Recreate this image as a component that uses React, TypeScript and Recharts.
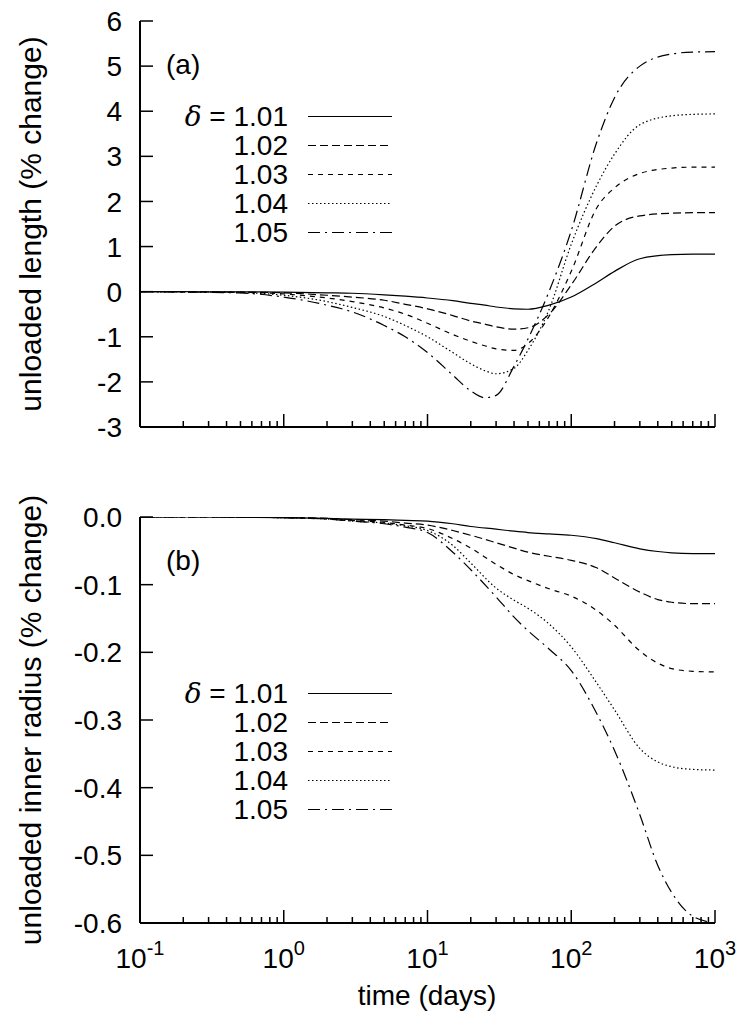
import { Line, LineChart, XAxis, YAxis } from 'recharts'

// time (days) sample points
const lengthTimes = [0.1, 0.2, 0.5, 1, 2, 3, 5, 7, 10, 15, 20, 25, 30, 40, 50, 70, 100, 150, 200, 300, 500, 700, 1000]
const length101 = [0, -0.001, -0.004, -0.01, -0.025, -0.035, -0.07, -0.1, -0.14, -0.2, -0.26, -0.3, -0.34, -0.38, -0.39, -0.3, -0.12, 0.2, 0.45, 0.73, 0.82, 0.83, 0.83]
const length102 = [0, -0.003, -0.01, -0.025, -0.08, -0.12, -0.19, -0.28, -0.38, -0.53, -0.65, -0.72, -0.78, -0.83, -0.8, -0.5, 0.15, 1.0, 1.45, 1.68, 1.74, 1.75, 1.75]
const length103 = [0, -0.005, -0.015, -0.05, -0.14, -0.22, -0.36, -0.5, -0.7, -0.95, -1.1, -1.2, -1.27, -1.3, -1.15, -0.55, 0.45, 1.85, 2.3, 2.62, 2.74, 2.76, 2.76]
const length104 = [0, -0.006, -0.02, -0.08, -0.22, -0.35, -0.55, -0.75, -1.0, -1.35, -1.6, -1.75, -1.82, -1.7, -1.3, -0.4, 1.05, 2.35, 3.05, 3.7, 3.9, 3.93, 3.94]
const length105 = [0, -0.008, -0.03, -0.12, -0.3, -0.45, -0.75, -1.0, -1.35, -1.85, -2.2, -2.35, -2.3, -1.65, -1.05, 0.0, 1.35, 3.3, 4.3, 5.0, 5.27, 5.31, 5.32]

const radiusTimes = [0.1, 0.3, 1, 2, 3, 5, 7, 10, 15, 20, 30, 40, 50, 70, 100, 150, 200, 300, 400, 500, 700, 1000]
const radius101 = [0, 0, -0.001, -0.002, -0.003, -0.004, -0.005, -0.006, -0.01, -0.014, -0.018, -0.021, -0.023, -0.025, -0.027, -0.032, -0.038, -0.047, -0.051, -0.053, -0.054, -0.054]
const radius102 = [0, 0, -0.001, -0.002, -0.004, -0.006, -0.009, -0.012, -0.02, -0.027, -0.038, -0.046, -0.052, -0.058, -0.064, -0.075, -0.09, -0.111, -0.122, -0.126, -0.128, -0.128]
const radius103 = [0, 0, -0.001, -0.003, -0.005, -0.008, -0.012, -0.017, -0.032, -0.046, -0.07, -0.085, -0.094, -0.106, -0.117, -0.138, -0.16, -0.198, -0.216, -0.224, -0.228, -0.229]
const radius104 = [0, 0, -0.001, -0.003, -0.006, -0.009, -0.013, -0.02, -0.042, -0.068, -0.105, -0.123, -0.135, -0.158, -0.192, -0.245, -0.285, -0.342, -0.362, -0.369, -0.373, -0.374]
const radius105 = [0, 0, -0.001, -0.003, -0.006, -0.01, -0.015, -0.023, -0.052, -0.078, -0.118, -0.148, -0.168, -0.195, -0.227, -0.29, -0.345, -0.44, -0.515, -0.555, -0.59, -0.6]

const deltas = ['1.01', '1.02', '1.03', '1.04', '1.05']
const seriesKeys = ['d101', 'd102', 'd103', 'd104', 'd105']
const dashes = [undefined, '8 4', '5 5', '1.5 2.5', '12 5 2 5']

const lengthTicks = [-3, -2, -1, 0, 1, 2, 3, 4, 5, 6]
const radiusTicks = [-0.6, -0.5, -0.4, -0.3, -0.2, -0.1, 0]
const timeTicks = [0.1, 1, 10, 100].flatMap((d) => [1, 2, 3, 4, 5, 6, 7, 8, 9].map((k) => d * k)).concat([1000])

const lengthData = lengthTimes.map((t, i) => ({
  t,
  d101: length101[i],
  d102: length102[i],
  d103: length103[i],
  d104: length104[i],
  d105: length105[i],
}))

const radiusData = radiusTimes.map((t, i) => ({
  t,
  d101: radius101[i],
  d102: radius102[i],
  d103: radius103[i],
  d104: radius104[i],
  d105: radius105[i],
}))

const FONT = '"Liberation Sans", Arial, Helvetica, sans-serif'
const FS = 28
const MAJOR = 13
const MINOR = 6

function isMajor(v: number) {
  const l = Math.log10(v)
  return Math.abs(l - Math.round(l)) < 1e-6
}

function BottomTick(props: any) {
  const { x, y, payload, showLabel } = props
  const v = payload.value
  const major = isMajor(v)
  return (
    <g>
      <line x1={x} y1={y} x2={x} y2={y - (major ? MAJOR : MINOR)} stroke="#000" strokeWidth={1.5} />
      {showLabel && major && (
        <text x={x} y={y + 45} textAnchor="middle" fontSize={FS} fill="#000" fontFamily={FONT}>
          10
          <tspan dy={-13} fontSize={20}>
            {Math.round(Math.log10(v))}
          </tspan>
        </text>
      )}
    </g>
  )
}

function TopTick(props: any) {
  const { x, y, payload } = props
  const major = isMajor(payload.value)
  return <line x1={x} y1={y} x2={x} y2={y + (major ? MAJOR : MINOR)} stroke="#000" strokeWidth={1.5} />
}

function LeftTick(props: any) {
  const { x, y, payload, digits } = props
  const v = payload.value
  const label = digits ? (v === 0 ? '0.0' : v.toFixed(digits)) : String(v)
  return (
    <g>
      <line x1={x} y1={y} x2={x + MAJOR} y2={y} stroke="#000" strokeWidth={1.5} />
      <text x={x - 18} y={y} dy="0.36em" textAnchor="end" fontSize={FS} fill="#000" fontFamily={FONT}>
        {label}
      </text>
    </g>
  )
}

function RightTick(props: any) {
  const { x, y } = props
  return <line x1={x} y1={y} x2={x - MAJOR} y2={y} stroke="#000" strokeWidth={1.5} />
}

const frame = { stroke: '#000', strokeWidth: 2 }

function Panel({
  data,
  height,
  margin,
  xHeight,
  yDomain,
  yTicks,
  digits,
  showX,
}: {
  data: any[]
  height: number
  margin: { top: number; right: number; bottom: number; left: number }
  xHeight: number
  yDomain: [number, number]
  yTicks: number[]
  digits: number
  showX: boolean
}) {
  return (
    <LineChart width={746} height={height} data={data} margin={margin}>
      <XAxis
        dataKey="t"
        type="number"
        scale="log"
        domain={[0.1, 1000]}
        allowDataOverflow
        ticks={timeTicks}
        interval={0}
        height={xHeight}
        tickSize={0}
        tickMargin={0}
        tickLine={false}
        axisLine={frame}
        tick={(p: any) => <BottomTick {...p} showLabel={showX} />}
      />
      <XAxis
        xAxisId="top"
        orientation="top"
        dataKey="t"
        type="number"
        scale="log"
        domain={[0.1, 1000]}
        allowDataOverflow
        ticks={timeTicks}
        interval={0}
        height={0}
        tickSize={0}
        tickMargin={0}
        tickLine={false}
        axisLine={frame}
        tick={(p: any) => <TopTick {...p} />}
      />
      <YAxis
        type="number"
        domain={yDomain}
        allowDataOverflow
        ticks={yTicks}
        interval={0}
        width={140}
        tickSize={0}
        tickMargin={0}
        tickLine={false}
        axisLine={frame}
        tick={(p: any) => <LeftTick {...p} digits={digits} />}
      />
      <YAxis
        yAxisId="right"
        orientation="right"
        type="number"
        domain={yDomain}
        allowDataOverflow
        ticks={yTicks}
        interval={0}
        width={0}
        tickSize={0}
        tickMargin={0}
        tickLine={false}
        axisLine={frame}
        tick={(p: any) => <RightTick {...p} />}
      />
      {seriesKeys.map((k, i) => (
        <Line
          key={k}
          type="monotone"
          dataKey={k}
          stroke="#000"
          strokeWidth={1.2}
          strokeDasharray={dashes[i]}
          dot={false}
          activeDot={false}
          isAnimationActive={false}
        />
      ))}
    </LineChart>
  )
}

function LegendBlock({ top }: { top: number }) {
  return (
    <div style={{ position: 'absolute', left: 0, top, width: 400 }}>
      {deltas.map((d, i) => (
        <div key={d} style={{ position: 'absolute', left: 0, top: i * 29, height: 29, width: 400 }}>
          <div
            style={{
              position: 'absolute',
              right: 400 - 288,
              top: 0,
              lineHeight: '29px',
              fontSize: FS,
              whiteSpace: 'nowrap',
              textAlign: 'right',
            }}
          >
            {i === 0 && (
              <span>
                <span style={{ fontFamily: '"DejaVu Serif", "Liberation Serif", serif', fontStyle: 'italic' }}>δ</span> ={' '}
              </span>
            )}
            {d}
          </div>
          <svg style={{ position: 'absolute', left: 308, top: 0 }} width={86} height={29}>
            <line x1={0} y1={14.5} x2={84} y2={14.5} stroke="#000" strokeWidth={1.2} strokeDasharray={dashes[i]} />
          </svg>
        </div>
      ))}
    </div>
  )
}

function RotatedTitle({ cx, cy, text }: { cx: number; cy: number; text: string }) {
  return (
    <div
      style={{
        position: 'absolute',
        left: cx - 300,
        top: cy - 20,
        width: 600,
        height: 40,
        lineHeight: '40px',
        textAlign: 'center',
        fontSize: 30,
        transform: 'rotate(-90deg)',
        whiteSpace: 'nowrap',
      }}
    >
      {text}
    </div>
  )
}

export default function App() {
  return (
    <div
      style={{
        position: 'absolute',
        left: 0,
        top: 0,
        width: 746,
        height: 1022,
        background: '#fff',
        fontFamily: FONT,
        color: '#000',
        overflow: 'hidden',
      }}
    >
      <div style={{ position: 'absolute', left: 0, top: 0 }}>
        <Panel
          data={lengthData}
          height={460}
          margin={{ top: 21, right: 31, bottom: 0, left: 0 }}
          xHeight={33}
          yDomain={[-3, 6]}
          yTicks={lengthTicks}
          digits={0}
          showX={false}
        />
      </div>
      <div style={{ position: 'absolute', left: 0, top: 490 }}>
        <Panel
          data={radiusData}
          height={532}
          margin={{ top: 27, right: 31, bottom: 0, left: 0 }}
          xHeight={99}
          yDomain={[-0.6, 0]}
          yTicks={radiusTicks}
          digits={1}
          showX
        />
      </div>

      <RotatedTitle cx={31} cy={224} text="unloaded length (% change)" />
      <RotatedTitle cx={31} cy={720} text="unloaded inner radius (% change)" />
      <div style={{ position: 'absolute', left: 0, width: 854, top: 976, lineHeight: '40px', textAlign: 'center', fontSize: FS }}>
        time (days)
      </div>

      <div style={{ position: 'absolute', left: 166, top: 45, fontSize: FS, lineHeight: '40px' }}>(a)</div>
      <div style={{ position: 'absolute', left: 166, top: 541, fontSize: FS, lineHeight: '40px' }}>(b)</div>

      <LegendBlock top={102} />
      <LegendBlock top={679} />
    </div>
  )
}
